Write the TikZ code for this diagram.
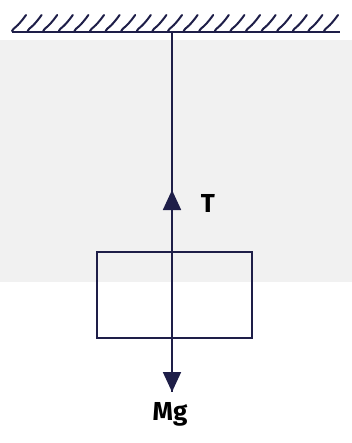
\documentclass[tikz,border=0pt]{standalone}
\usepackage{fontspec}
\setmainfont{Fira Sans}
\usetikzlibrary{arrows.meta}
\definecolor{ink}{HTML}{1E1E48}
\definecolor{bggray}{HTML}{F1F1F1}
\tikzset{
  inkline/.style={draw=ink, line width=1.8pt},
  hatchmark/.style={draw=ink, line width=2pt, line cap=round},
  forcetip/.style={-{Triangle[length=20pt,width=18pt]}, draw=ink, fill=ink, line width=1.8pt},
  lbl/.style={text=black, font=\fontsize{26}{28}\selectfont\bfseries, inner sep=0pt}
}
\begin{document}
\begin{tikzpicture}[x=1pt,y=-1pt]
\useasboundingbox (0,0) rectangle (352,443);
\fill[bggray] (0,40) rectangle (352,282);
% ceiling
\coordinate (cl) at (12,32);
\coordinate (cr) at (340,32);
\draw[inkline] (cl) -- (cr);
\foreach \i in {0,...,20}{
  \pgfmathsetmacro{\xx}{15+15.6*\i}
  \draw[hatchmark] (\xx-3,31) .. controls (\xx-1,27) and (\xx+1,29) .. (\xx+11,15);
}
% block
\node[draw=ink, line width=1.8pt, minimum width=155pt, minimum height=86pt, inner sep=0pt] (box) at (174.5,295) {};
\coordinate (top) at (172,32);
\coordinate (bot) at (172,392);
\coordinate (tstart) at (172,240);
\coordinate (ttip) at (172,190);
\coordinate (mstart) at (172,340);
\draw[inkline] (top) -- (bot);
\draw[forcetip] (tstart) -- (ttip);
\draw[forcetip] (mstart) -- (bot);
\node[lbl] (T) at (208,203) {T};
\node[lbl] (Mg) at (170,414) {Mg};
\end{tikzpicture}
\end{document}
